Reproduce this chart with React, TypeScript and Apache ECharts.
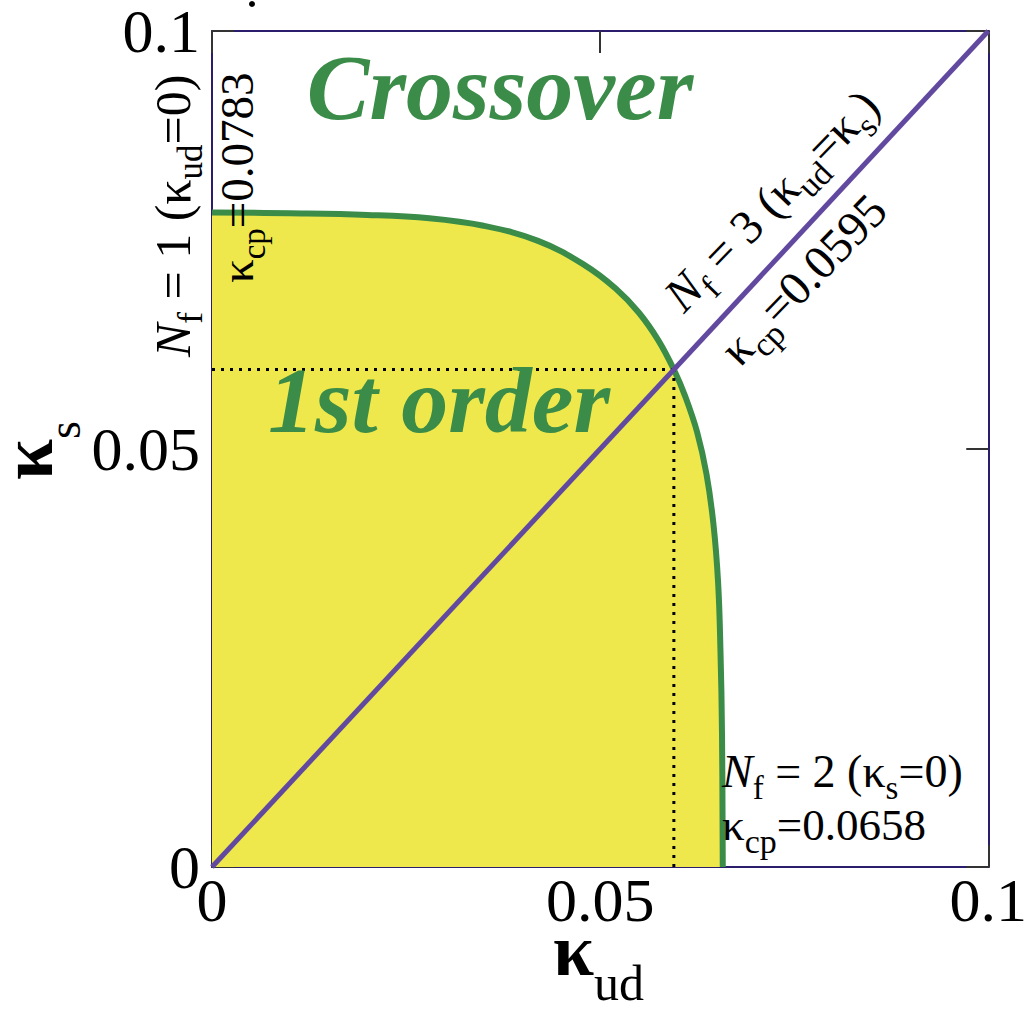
import React, { useEffect, useRef } from 'react';
import * as echarts from 'echarts';

// ---- data ----
const tickValues = [0, 0.05, 0.1];
const tickLabels = ['0', '0.05', '0.1'];
const boundaryX = [0, 0.01, 0.02, 0.028, 0.035, 0.042, 0.048, 0.052, 0.055, 0.0575, 0.0595, 0.061, 0.0625, 0.0637, 0.0646, 0.0652, 0.0655, 0.0657, 0.0658];
const boundaryY = [0.0783, 0.0782, 0.078, 0.0776, 0.0767, 0.0749, 0.072, 0.0692, 0.0663, 0.063, 0.0595, 0.0562, 0.052, 0.047, 0.041, 0.034, 0.026, 0.016, 0];
const diagX = [0, 0.1];
const diagY = [0, 0.1];
const kcp3 = 0.0595;

const FONT = '"Liberation Serif", "Times New Roman", serif';
const GREEN = '#3a8c48';
const YELLOW = '#eee84c';
const PURPLE = '#6249a0';
const FRAME = '#2b1d6b';

type Piece = { t: string; sub?: boolean; it?: boolean; bold?: boolean };

const nf1Label: Piece[] = [{ t: 'N', it: true }, { t: 'f', sub: true }, { t: ' = 1 (' }, { t: 'κ' }, { t: 'ud', sub: true }, { t: '=0)' }];
const kcp1Label: Piece[] = [{ t: 'κ' }, { t: 'cp', sub: true }, { t: '=0.0783' }];
const nf3Label: Piece[] = [{ t: 'N', it: true }, { t: 'f', sub: true }, { t: ' = 3 (' }, { t: 'κ' }, { t: 'ud', sub: true }, { t: '=κ' }, { t: 's', sub: true }, { t: ')' }];
const kcp3Label: Piece[] = [{ t: 'κ' }, { t: 'cp', sub: true }, { t: '=0.0595' }];
const nf2Label: Piece[] = [{ t: 'N', it: true }, { t: 'f', sub: true }, { t: ' = 2 (' }, { t: 'κ' }, { t: 's', sub: true }, { t: '=0)' }];
const kcp2Label: Piece[] = [{ t: 'κ' }, { t: 'cp', sub: true }, { t: '=0.0658' }];
const yName: Piece[] = [{ t: 'κ', bold: true }, { t: 's', sub: true }];
const xName: Piece[] = [{ t: 'κ', bold: true }, { t: 'ud', sub: true }];

function fontStr(size: number, it?: boolean, bold?: boolean) {
  return `${it ? 'italic' : 'normal'} ${bold ? 'bold' : 'normal'} ${size}px ${FONT}`;
}

function buildLabel(
  ctx: CanvasRenderingContext2D,
  pieces: Piece[],
  x: number,
  y: number,
  rotationDeg: number,
  size: number,
  subSize: number,
  subDy: number,
  color = '#000'
) {
  let cx = 0;
  const children: any[] = [];
  pieces.forEach((p) => {
    const s = p.sub ? subSize : size;
    const f = fontStr(s, p.it, p.bold);
    ctx.font = f;
    const w = ctx.measureText(p.t).width;
    const base = p.sub ? subDy : 0;
    children.push({
      type: 'text',
      x: cx,
      y: base - 0.34 * s,
      z: 50,
      style: { text: p.t, font: f, fill: color, align: 'left', verticalAlign: 'middle' },
    });
    cx += w;
  });
  return { type: 'group', x, y, rotation: (rotationDeg * Math.PI) / 180, children, z: 50 };
}

export default function App() {
  const ref = useRef<HTMLDivElement>(null);
  useEffect(() => {
    document.body.style.margin = '0';
    if (!ref.current) return;
    const chart = echarts.init(ref.current, undefined, { renderer: 'svg' });
    const canvas = document.createElement('canvas');
    const ctx = canvas.getContext('2d') as CanvasRenderingContext2D;

    const axisCommon = {
      type: 'value' as const,
      min: 0,
      max: 0.1,
      interval: 0.05,
      axisLine: { show: true, onZero: false, lineStyle: { color: FRAME, width: 2 } },
      axisTick: { show: true, inside: true, length: 22, lineStyle: { color: '#333', width: 2 } },
      splitLine: { show: false },
    };
    const fmt = (v: number) => {
      const i = tickValues.findIndex((t) => Math.abs(t - v) < 1e-9);
      return i >= 0 ? tickLabels[i] : '';
    };

    const graphics: any[] = [
      buildLabel(ctx, nf1Label, 190, 357, 90, 50, 35, 12),
      buildLabel(ctx, kcp1Label, 253, 283, 90, 47, 33, 12),
      buildLabel(ctx, nf3Label, 684, 314, 46, 48, 34, 12),
      buildLabel(ctx, kcp3Label, 740, 368, 46, 48, 34, 12),
      buildLabel(ctx, nf2Label, 722, 787, 0, 46, 33, 12),
      buildLabel(ctx, kcp2Label, 722, 840, 0, 45, 34, 13),
      buildLabel(ctx, yName, 52, 480, 90, 74, 46, 28),
      buildLabel(ctx, xName, 553, 975, 0, 74, 50, 25),
      {
        type: 'text', x: 500, y: 119 - 0.34 * 94, z: 50,
        style: { text: 'Crossover', font: fontStr(94, true, true), fill: GREEN, align: 'center', verticalAlign: 'middle' },
      },
      {
        type: 'text', x: 439, y: 432 - 0.34 * 94, z: 50,
        style: { text: '1st order', font: fontStr(94, true, true), fill: GREEN, align: 'center', verticalAlign: 'middle' },
      },
      { type: 'circle', shape: { cx: 252, cy: 4, r: 3 }, style: { fill: '#000' }, z: 50 },
    ];

    chart.setOption({
      animation: false,
      backgroundColor: '#fff',
      grid: { left: 212, right: 37, top: 29, bottom: 142, containLabel: false },
      xAxis: [
        {
          ...axisCommon,
          position: 'bottom',
          axisLabel: { show: true, fontSize: 62, fontFamily: FONT, color: '#000', margin: 2, formatter: fmt },
        },
        { ...axisCommon, position: 'top', axisLabel: { show: false } },
      ],
      yAxis: [
        {
          ...axisCommon,
          position: 'left',
          axisLabel: { show: true, fontSize: 62, fontFamily: FONT, color: '#000', margin: 12, formatter: fmt },
        },
        { ...axisCommon, position: 'right', axisLabel: { show: false } },
      ],
      series: [
        {
          type: 'line',
          data: boundaryX.map((x, i) => [x, boundaryY[i]]),
          smooth: 0.4,
          showSymbol: false,
          lineStyle: { color: GREEN, width: 6 },
          areaStyle: { color: YELLOW, opacity: 1 },
          z: 2,
        },
        {
          type: 'line',
          data: [[0, kcp3], [kcp3, kcp3]],
          showSymbol: false,
          lineStyle: { color: '#000', width: 3, type: [3, 6] },
          z: 3,
        },
        {
          type: 'line',
          data: [[kcp3, 0], [kcp3, kcp3]],
          showSymbol: false,
          lineStyle: { color: '#000', width: 3, type: [3, 6] },
          z: 3,
        },
        {
          type: 'line',
          data: diagX.map((x, i) => [x, diagY[i]]),
          showSymbol: false,
          lineStyle: { color: PURPLE, width: 5 },
          z: 4,
        },
      ],
      graphic: graphics,
    });
    return () => chart.dispose();
  }, []);
  return <div ref={ref} style={{ width: 1030, height: 1009 }} />;
}
